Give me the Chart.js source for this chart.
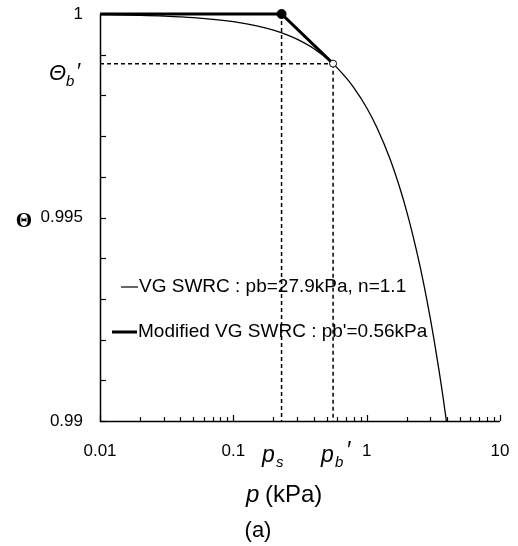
<!DOCTYPE html>
<html>
<head>
<meta charset="utf-8">
<script src="https://cdn.jsdelivr.net/npm/chart.js@4.4.0/dist/chart.umd.min.js"></script>
<style>
html,body{margin:0;padding:0;background:#fff;}
canvas{display:block;}
</style>
</head>
<body>
<canvas id="c" width="518" height="546"></canvas>
<script>
// ---- data ----
const vgPressure = [0.01,0.02,0.03,0.05,0.1,0.15,0.2,0.25,0.3,0.4,0.56,0.7,0.8,1,1.2,1.5,1.8,2,2.2,2.5,2.8,3,3.2,3.5,3.7,3.96];
const vgTheta    = [0.999985,0.999968,0.999951,0.999913,0.999814,0.999711,0.999603,0.999493,0.999381,0.999152,0.998775,0.998436,0.998190,0.997697,0.997193,0.996429,0.995656,0.995139,0.994617,0.993835,0.993051,0.992527,0.991999,0.991214,0.990694,0.990000];
const modPressure = [0.01, 0.23, 0.56];
const modTheta    = [1.0, 1.0, 0.99878];
const ps = 0.23;
const pbPrime = 0.56;
const thetaB = 0.99878;

const xTickValues = [0.01, 0.1, 1, 10];
const xTickLabels = ['0.01', '0.1', '1', '10'];
const xMinorMultipliers = [2,3,4,5,6,7,8,9];
const yTickValues = [0.99, 0.995, 1];
const yTickLabels = ['0.99', '0.995', '1'];
const yTickMarks = [0.99,0.991,0.992,0.993,0.994,0.995,0.996,0.997,0.998,0.999,1.0];

const legendLabels = ['VG SWRC : pb=27.9kPa, n=1.1', "Modified VG SWRC : pb'=0.56kPa"];

const toXY = (xs, ys) => xs.map((v, i) => ({x: v, y: ys[i]}));

const SANS = '"Liberation Sans", Arial, sans-serif';

const decor = {
  id: 'decor',
  afterDraw(chart) {
    const {ctx, chartArea: ca, scales: {x, y}} = chart;
    ctx.save();
    ctx.strokeStyle = '#000';
    ctx.fillStyle = '#000';
    ctx.lineWidth = 1.5;
    // axes
    ctx.beginPath();
    ctx.moveTo(ca.left + 0.5, ca.top);
    ctx.lineTo(ca.left + 0.5, ca.bottom + 0.5);
    ctx.lineTo(ca.right, ca.bottom + 0.5);
    ctx.stroke();
    // y ticks (inward)
    ctx.lineWidth = 1.2;
    yTickMarks.forEach(v => {
      const py = Math.round(y.getPixelForValue(v)) + 0.5;
      ctx.beginPath(); ctx.moveTo(ca.left, py); ctx.lineTo(ca.left + 6, py); ctx.stroke();
    });
    // x ticks (inward)
    xTickValues.forEach((v, i) => {
      const px = Math.round(x.getPixelForValue(v)) + 0.5;
      ctx.beginPath(); ctx.moveTo(px, ca.bottom); ctx.lineTo(px, ca.bottom - 6); ctx.stroke();
      if (i < xTickValues.length - 1) {
        xMinorMultipliers.forEach(m => {
          const qx = Math.round(x.getPixelForValue(v * m)) + 0.5;
          ctx.beginPath(); ctx.moveTo(qx, ca.bottom); ctx.lineTo(qx, ca.bottom - 4); ctx.stroke();
        });
      }
    });
    // y tick labels
    ctx.font = '17px ' + SANS;
    ctx.textAlign = 'right';
    ctx.textBaseline = 'middle';
    yTickValues.forEach((v, i) => {
      ctx.fillText(yTickLabels[i], 83, y.getPixelForValue(v));
    });
    // x tick labels
    ctx.textAlign = 'center';
    xTickValues.forEach((v, i) => {
      ctx.fillText(xTickLabels[i], x.getPixelForValue(v), 451);
    });
    // Theta_b' label
    const ty = y.getPixelForValue(thetaB);
    ctx.textAlign = 'left';
    ctx.textBaseline = 'alphabetic';
    ctx.font = 'italic 22px ' + SANS;
    ctx.fillText('Θ', 49, ty + 16);
    ctx.font = 'italic 15px ' + SANS;
    ctx.fillText('b', 66, ty + 22);
    ctx.font = 'italic 22px ' + SANS;
    ctx.fillText('\u2032', 76, ty + 14);
    // y-axis title
    ctx.font = 'bold 21px "Liberation Serif", "Times New Roman", serif';
    ctx.textAlign = 'center';
    ctx.textBaseline = 'middle';
    ctx.fillText('Θ', 24, 222);
    // ps, pb' labels
    ctx.textAlign = 'left';
    ctx.textBaseline = 'alphabetic';
    ctx.font = 'italic 23px ' + SANS;
    ctx.fillText('p', 262, 462);
    ctx.font = 'italic 15px ' + SANS;
    ctx.fillText('s', 276, 467);
    ctx.font = 'italic 23px ' + SANS;
    ctx.fillText('p', 321, 462);
    ctx.font = 'italic 15px ' + SANS;
    ctx.fillText('b', 335, 467);
    ctx.font = 'italic 23px ' + SANS;
    ctx.fillText('\u2032', 346, 458);
    // x-axis title
    ctx.font = 'italic 24px ' + SANS;
    ctx.fillText('p', 246, 502);
    ctx.font = '24px ' + SANS;
    ctx.fillText('(kPa)', 265, 502);
    // caption
    ctx.textAlign = 'center';
    ctx.font = '22px ' + SANS;
    ctx.fillText('(a)', 258, 537);
    // legend
    ctx.textAlign = 'left';
    ctx.textBaseline = 'middle';
    ctx.font = '19px ' + SANS;
    ctx.lineWidth = 1.2;
    ctx.beginPath(); ctx.moveTo(121, 287); ctx.lineTo(138, 287); ctx.stroke();
    ctx.fillText(legendLabels[0], 139, 287);
    ctx.lineWidth = 3;
    ctx.beginPath(); ctx.moveTo(112, 332); ctx.lineTo(137, 332); ctx.stroke();
    ctx.fillText(legendLabels[1], 138, 332);
    ctx.restore();
  }
};

new Chart(document.getElementById('c'), {
  type: 'scatter',
  data: {
    datasets: [
      { // filled point at ps
        data: toXY([ps], [1.0]),
        pointRadius: 4.5, pointBackgroundColor: '#000', pointBorderColor: '#000',
        showLine: false, order: 0, clip: false
      },
      { // open point at pb'
        data: toXY([pbPrime], [thetaB]),
        pointRadius: 3.5, pointBackgroundColor: '#fff', pointBorderColor: '#000', pointBorderWidth: 1,
        showLine: false, order: 0, clip: false
      },
      { // modified VG
        data: toXY(modPressure, modTheta),
        showLine: true, borderColor: '#000', borderWidth: 3, pointRadius: 0,
        tension: 0, order: 1, clip: 4
      },
      { // VG SWRC
        data: toXY(vgPressure, vgTheta),
        showLine: true, borderColor: '#000', borderWidth: 1.3, pointRadius: 0,
        cubicInterpolationMode: 'monotone', order: 2
      },
      { // vertical at ps
        data: toXY([ps, ps], [1.0, 0.99]),
        showLine: true, borderColor: '#000', borderWidth: 1.5, borderDash: [4, 3], pointRadius: 0, order: 3
      },
      { // vertical at pb'
        data: toXY([pbPrime, pbPrime], [thetaB, 0.99]),
        showLine: true, borderColor: '#000', borderWidth: 1.5, borderDash: [4, 3], pointRadius: 0, order: 3
      },
      { // horizontal at theta_b'
        data: toXY([0.01, pbPrime], [thetaB, thetaB]),
        showLine: true, borderColor: '#000', borderWidth: 1.5, borderDash: [4, 3], pointRadius: 0, order: 3
      }
    ]
  },
  options: {
    responsive: false,
    animation: false,
    devicePixelRatio: 1,
    layout: { padding: { left: 100, right: 18, top: 14, bottom: 125 } },
    plugins: { legend: { display: false }, tooltip: { enabled: false } },
    scales: {
      x: { type: 'logarithmic', min: 0.01, max: 10, display: false },
      y: { type: 'linear', min: 0.99, max: 1.0, display: false }
    }
  },
  plugins: [decor]
});
</script>
</body>
</html>
